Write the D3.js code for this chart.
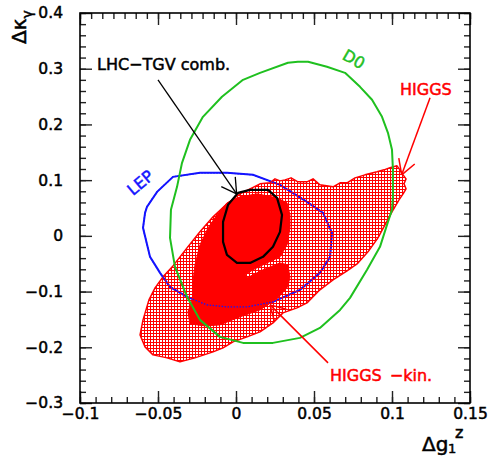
<!DOCTYPE html>
<html>
<head>
<meta charset="utf-8">
<script src="https://cdn.jsdelivr.net/npm/d3@7"></script>
<style>
  body { margin: 0; background: #fff; }
  svg { display: block; }
  text { font-family: "DejaVu Sans", sans-serif; }
</style>
</head>
<body>
<svg id="chart" width="490" height="458"></svg>
<script>
// Axis ticks and labels
const xMajor = [-0.1, -0.05, 0, 0.05, 0.1, 0.15];
const xLabels = ["\u22120.1", "\u22120.05", "0", "0.05", "0.1", "0.15"];
const yMajor = [-0.3, -0.2, -0.1, 0, 0.1, 0.2, 0.3, 0.4];
const yLabels = ["\u22120.3", "\u22120.2", "\u22120.1", "0", "0.1", "0.2", "0.3", "0.4"];

// D0 allowed region (Δg1Z, Δκγ)
const d0Contour = [
  [0.0397, 0.3124], [0.0462, 0.3124], [0.0583, 0.3034], [0.0699, 0.2926], [0.0795, 0.2675],
  [0.0872, 0.2442], [0.0936, 0.2136], [0.0974, 0.1849], [0.1000, 0.1544], [0.1006, 0.1185],
  [0.1006, 0.0700], [0.1000, 0.0467], [0.0974, 0.0251], [0.0923, -0.0197], [0.0840, -0.0610],
  [0.0731, -0.1113], [0.0667, -0.1329], [0.0538, -0.1652], [0.0410, -0.1831], [0.0237, -0.1921],
  [0.0045, -0.1921], [-0.0103, -0.1813], [-0.0231, -0.1508], [-0.0314, -0.1095], [-0.0391, -0.0557],
  [-0.0423, -0.0036], [-0.0417, 0.0467], [-0.0378, 0.0880], [-0.0346, 0.1311], [-0.0295, 0.1724],
  [-0.0212, 0.2136], [-0.0090, 0.2496], [0.0045, 0.2801], [0.0154, 0.2926], [0.0333, 0.3106]
];

// LEP allowed region
const lepContour = [
  [-0.0596, 0.0144], [-0.0583, 0.0413], [-0.0571, 0.0521], [-0.0506, 0.0790], [-0.0404, 0.1059],
  [-0.0231, 0.1131], [-0.0058, 0.1131], [0.0109, 0.1095], [0.0282, 0.0916], [0.0455, 0.0610],
  [0.0558, 0.0413], [0.0615, 0.0054], [0.0603, -0.0377], [0.0538, -0.0664], [0.0410, -0.0969],
  [0.0237, -0.1185], [0.0071, -0.1275], [-0.0058, -0.1275], [-0.0186, -0.1239], [-0.0314, -0.1095],
  [-0.0423, -0.0916], [-0.0487, -0.0664], [-0.0551, -0.0377]
];

// LHC triple-gauge-vertex combination
const tgvContour = [
  [-0.0051, 0.0557], [0.0013, 0.0772], [0.0090, 0.0826], [0.0205, 0.0826], [0.0263, 0.0682],
  [0.0295, 0.0377], [0.0282, 0.0072], [0.0237, -0.0197], [0.0173, -0.0377], [0.0090, -0.0485],
  [0.0006, -0.0485], [-0.0058, -0.0341], [-0.0083, -0.0108], [-0.0083, 0.0251]
];

// HIGGS region (hatched)
const higgsHatched = [
  [-0.0615, -0.1777], [-0.0596, -0.1508], [-0.0577, -0.1329], [-0.0558, -0.1149], [-0.0519, -0.0934],
  [-0.0468, -0.0736], [-0.0404, -0.0539], [-0.0314, -0.0215], [-0.0231, 0.0072], [-0.0147, 0.0341],
  [-0.0058, 0.0575], [0.0026, 0.0754], [0.0154, 0.0934], [0.0218, 0.0952], [0.0250, 0.1023],
  [0.0282, 0.0987], [0.0314, 0.1005], [0.0353, 0.1041], [0.0397, 0.0969], [0.0455, 0.0969],
  [0.0494, 0.1023], [0.0538, 0.0916], [0.0622, 0.0880], [0.0667, 0.0952], [0.0712, 0.0952],
  [0.0763, 0.1041], [0.0827, 0.1095], [0.0904, 0.1149], [0.0949, 0.1185], [0.0987, 0.1221],
  [0.1032, 0.1257], [0.1051, 0.1185], [0.1071, 0.1095], [0.1090, 0.1023], [0.1077, 0.0934],
  [0.1090, 0.0844], [0.1071, 0.0754], [0.1045, 0.0646], [0.1000, 0.0431], [0.0955, 0.0197],
  [0.0910, -0.0036], [0.0846, -0.0287], [0.0776, -0.0503], [0.0712, -0.0628], [0.0622, -0.0790],
  [0.0538, -0.0969], [0.0455, -0.1203], [0.0391, -0.1293], [0.0301, -0.1382], [0.0237, -0.1562],
  [0.0154, -0.1724], [0.0071, -0.1813], [-0.0019, -0.1903], [-0.0083, -0.2011], [-0.0147, -0.2083],
  [-0.0263, -0.2190], [-0.0359, -0.2262], [-0.0442, -0.2190], [-0.0532, -0.2136], [-0.0583, -0.1993]
];

// HIGGS -kin. region (solid)
const higgsSolid = [
  [0.0026, 0.0700], [0.0135, 0.0754], [0.0263, 0.0682], [0.0327, 0.0592], [0.0346, 0.0377],
  [0.0346, 0.0144], [0.0327, -0.0162], [0.0282, -0.0377], [0.0199, -0.0485], [0.0109, -0.0610],
  [0.0058, -0.0700], [0.0071, -0.0754], [0.0173, -0.0610], [0.0282, -0.0485], [0.0333, -0.0521],
  [0.0346, -0.0754], [0.0327, -0.0934], [0.0263, -0.1131], [0.0154, -0.1329], [0.0026, -0.1454],
  [-0.0103, -0.1598], [-0.0199, -0.1616], [-0.0295, -0.1580], [-0.0308, -0.1364], [-0.0276, -0.1113],
  [-0.0276, -0.0826], [-0.0263, -0.0521], [-0.0231, -0.0162], [-0.0179, 0.0144], [-0.0122, 0.0377],
  [-0.0058, 0.0592]
];

// Annotation arrows: [start, tip]
const tgvArrow = [[-0.0500, 0.2801], [0.0004, 0.0754]];
const higgsArrow = [[0.1244, 0.2478], [0.1062, 0.1095]];
const kinArrow = [[0.0590, -0.2280], [0.0218, -0.1239]];

(function draw() {
  const RED = "#ff0000", GREEN = "#1fc01f", BLUE = "#1414ff";

  const svg = d3.select("#chart");
  const fL = 80, fR = 470, fT = 13, fB = 403;
  const x = d3.scaleLinear().domain([-0.1, 0.15]).range([fL, fR]);
  const y = d3.scaleLinear().domain([-0.3, 0.4]).range([fB, fT]);

  // crosshatch fill with see-through holes
  const defs = svg.append("defs");
  const pat = defs.append("pattern").attr("id", "hatch")
    .attr("patternUnits", "userSpaceOnUse").attr("width", 3).attr("height", 3);
  pat.append("path").attr("d", "M0,0H3V1H1V3H0Z").attr("fill", RED);
  defs.append("clipPath").attr("id", "frame").append("rect")
    .attr("x", fL).attr("y", fT).attr("width", fR - fL).attr("height", fB - fT);

  const line = d3.line().x(d => x(d[0])).y(d => y(d[1])).curve(d3.curveLinearClosed);
  const plot = svg.append("g").attr("clip-path", "url(#frame)");

  // LEP contour (beneath the HIGGS regions)
  plot.append("path").attr("d", line(lepContour)).attr("fill", "none")
    .attr("stroke", BLUE).attr("stroke-width", 2);

  plot.append("path").attr("d", line(higgsHatched)).attr("fill", "url(#hatch)")
    .attr("stroke", RED).attr("stroke-width", 1.5).attr("stroke-linejoin", "round");
  plot.append("path").attr("d", line(higgsSolid)).attr("fill", RED)
    .attr("stroke", RED).attr("stroke-width", 1).attr("stroke-linejoin", "round");

  // LEP contour showing through the filled areas
  plot.append("path").attr("d", line(lepContour)).attr("fill", "none")
    .attr("stroke", BLUE).attr("stroke-width", 1.3).attr("stroke-dasharray", "1.5,1.5");

  plot.append("path").attr("d", line(d0Contour)).attr("fill", "none")
    .attr("stroke", GREEN).attr("stroke-width", 2).attr("stroke-linejoin", "round");
  plot.append("path").attr("d", line(tgvContour)).attr("fill", "none")
    .attr("stroke", "#000").attr("stroke-width", 2.2).attr("stroke-linejoin", "round");

  // arrows
  function arrow(a, color, w) {
    const x0 = x(a[0][0]), y0 = y(a[0][1]);
    const x1 = x(a[1][0]), y1 = y(a[1][1]);
    const ang = Math.atan2(y0 - y1, x0 - x1);
    const L = 17, spread = 30 * Math.PI / 180;
    const g = svg.append("g").attr("stroke", color).attr("stroke-width", w).attr("fill", "none");
    g.append("line").attr("x1", x0).attr("y1", y0).attr("x2", x1).attr("y2", y1);
    [-spread, spread].forEach(s => {
      g.append("line").attr("x1", x1).attr("y1", y1)
        .attr("x2", x1 + L * Math.cos(ang + s)).attr("y2", y1 + L * Math.sin(ang + s));
    });
  }
  arrow(tgvArrow, "#000", 1.3);
  arrow(higgsArrow, RED, 1.5);
  arrow(kinArrow, RED, 1.5);

  // text annotations
  const ann = svg.append("g").attr("font-size", 16);
  ann.append("text").attr("x", 97).attr("y", 70).attr("fill", "#000")
    .attr("stroke", "#000").attr("stroke-width", 0.5).text("LHC\u2212TGV comb.");
  ann.append("text").attr("x", 400).attr("y", 95).attr("fill", RED)
    .attr("stroke", RED).attr("stroke-width", 0.5).text("HIGGS");
  ann.append("text").attr("x", 330).attr("y", 381).attr("fill", RED)
    .attr("stroke", RED).attr("stroke-width", 0.5).attr("word-spacing", 3).text("HIGGS \u2212kin.");
  ann.append("text").attr("transform", "translate(144,187) rotate(-40)").attr("text-anchor", "middle")
    .attr("fill", BLUE).attr("stroke", BLUE).attr("stroke-width", 0.5).text("LEP");
  ann.append("text").attr("transform", "translate(351,64) rotate(30)").attr("text-anchor", "middle")
    .attr("fill", GREEN).attr("stroke", GREEN).attr("stroke-width", 0.5).text("D0");

  // axes with inward ticks on all four sides
  function styleAxis(g) {
    g.select(".domain").remove();
    g.selectAll("line").attr("stroke", "#222").attr("stroke-width", 1.4);
    g.selectAll("text").attr("font-family", "DejaVu Sans").attr("font-size", 15.5)
      .attr("fill", "#000").attr("stroke", "#000").attr("stroke-width", 0.5);
  }
  const xMinor = d3.range(-0.1, 0.1501, 0.01);
  const xMinorTop = d3.range(0, 36).map(i => -0.1 + i * 0.05 / 7);
  const yMinor = d3.range(-0.3, 0.4001, 0.02);

  svg.append("g").attr("transform", `translate(0,${fB})`)
    .call(d3.axisBottom(x).tickValues(xMinor).tickSize(-6).tickFormat("")).call(styleAxis);
  svg.append("g").attr("transform", `translate(0,${fB})`)
    .call(d3.axisBottom(x).tickValues(xMajor).tickSize(-12).tickPadding(5)
      .tickFormat((d, i) => xLabels[i])).call(styleAxis);
  svg.append("g").attr("transform", `translate(0,${fT})`)
    .call(d3.axisTop(x).tickValues(xMinorTop).tickSize(-6).tickFormat("")).call(styleAxis);
  svg.append("g").attr("transform", `translate(0,${fT})`)
    .call(d3.axisTop(x).tickValues(xMajor).tickSize(-12).tickFormat("")).call(styleAxis);

  svg.append("g").attr("transform", `translate(${fL},0)`)
    .call(d3.axisLeft(y).tickValues(yMinor).tickSize(-6).tickFormat("")).call(styleAxis);
  svg.append("g").attr("transform", `translate(${fL},0)`)
    .call(d3.axisLeft(y).tickValues(yMajor).tickSize(-12).tickPadding(17)
      .tickFormat((d, i) => yLabels[i])).call(styleAxis);
  svg.append("g").attr("transform", `translate(${fR},0)`)
    .call(d3.axisRight(y).tickValues(yMinor).tickSize(-6).tickFormat("")).call(styleAxis);
  svg.append("g").attr("transform", `translate(${fR},0)`)
    .call(d3.axisRight(y).tickValues(yMajor).tickSize(-12).tickFormat("")).call(styleAxis);

  svg.append("rect").attr("x", fL).attr("y", fT).attr("width", fR - fL).attr("height", fB - fT)
    .attr("fill", "none").attr("stroke", "#000").attr("stroke-width", 1.6);

  // axis titles
  const xt = svg.append("text").attr("font-size", 20).attr("fill", "#000")
    .attr("stroke", "#000").attr("stroke-width", 0.5);
  xt.append("tspan").attr("x", 422).attr("y", 451).text("\u0394g");
  xt.append("tspan").attr("x", 448).attr("y", 453).attr("font-size", 13).text("1");
  xt.append("tspan").attr("x", 455).attr("y", 438).attr("font-size", 16).text("z");

  const yt = svg.append("text").attr("transform", "translate(26,44) rotate(-90)")
    .attr("font-size", 20).attr("fill", "#000").attr("stroke", "#000").attr("stroke-width", 0.5);
  yt.append("tspan").attr("x", 0).attr("y", 0).text("\u0394\u03ba");
  yt.append("tspan").attr("dy", 6).attr("font-size", 14).text("\u03b3");
})();
</script>
</body>
</html>
